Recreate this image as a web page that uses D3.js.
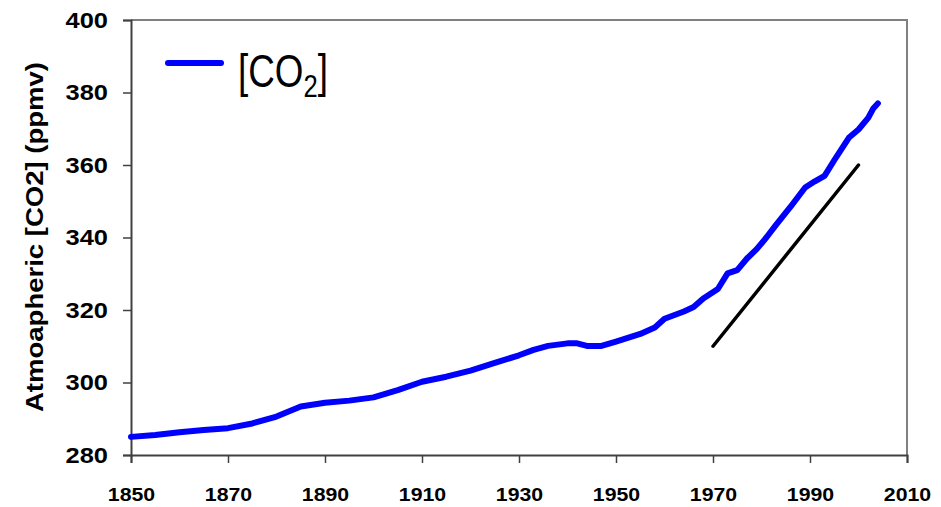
<!DOCTYPE html>
<html><head><meta charset="utf-8">
<script src="https://cdn.jsdelivr.net/npm/d3@7"></script>
<style>body{margin:0;background:#fff}svg{display:block}</style>
</head><body>
<svg id="c" width="941" height="507"></svg>
<script>
const years = [1850,1855,1860,1865,1870,1875,1880,1885,1890,1895,1900,1905,1910,1915,1920,1925,1930,1933,1936,1940,1942,1944,1947,1950,1955,1958,1960,1964,1966,1968,1971,1973,1975,1977,1979,1981,1983,1986,1989,1991,1993,1995,1998,2000,2002,2003,2004];
const co2 = [285.0,285.5,286.3,286.9,287.4,288.7,290.6,293.4,294.4,295.0,295.9,297.9,300.2,301.6,303.3,305.4,307.5,309.0,310.1,310.8,310.8,310.1,310.1,311.3,313.4,315.2,317.6,319.6,320.8,323.2,325.8,330.1,331.0,334.2,336.8,340.0,343.5,348.5,353.8,355.5,357.0,361.3,367.5,369.8,373.0,375.5,377.0];
const trendYears = [1970, 2000];
const trendValues = [310, 360];
const xTicks = [1850,1870,1890,1910,1930,1950,1970,1990,2010];
const yTicks = [280,300,320,340,360,380,400];
const yTitle = "Atmoapheric [CO2] (ppmv)";

const svg = d3.select("#c");
const L = 131, R = 907, T = 20, B = 455;
const x = d3.scaleLinear().domain([1850, 2010]).range([L, R]);
const y = d3.scaleLinear().domain([280, 400]).range([B, T]);

svg.append("path").attr("d", `M${L},${T}H${R}V${B}`).attr("fill","none").attr("stroke","#808080").attr("stroke-width",2);

function fitLen(sel, k){
  sel.each(function(){ const w = this.getComputedTextLength(); d3.select(this).attr("textLength", w*k).attr("lengthAdjust","spacingAndGlyphs"); });
}

const yAxis = svg.append("g").attr("transform",`translate(${L},0)`)
  .call(d3.axisLeft(y).tickValues(yTicks).tickSize(8).tickPadding(15).tickFormat(d3.format("d")));
yAxis.select(".domain").attr("stroke","#404040").attr("stroke-width",2);
yAxis.selectAll(".tick line").attr("stroke","#404040").attr("stroke-width",1.5);
yAxis.selectAll("text").attr("font-family","Liberation Sans, Arial, sans-serif").attr("font-weight","bold").attr("font-size",22.5).attr("fill","#000").call(fitLen,1.13);

const xAxis = svg.append("g").attr("transform",`translate(0,${B})`)
  .call(d3.axisBottom(x).tickValues(xTicks).tickSize(8).tickPadding(25).tickFormat(d3.format("d")));
xAxis.select(".domain").attr("stroke","#404040").attr("stroke-width",2);
xAxis.selectAll(".tick line").attr("stroke","#404040").attr("stroke-width",1.5);
xAxis.selectAll("text").attr("font-family","Liberation Sans, Arial, sans-serif").attr("font-weight","bold").attr("font-size",19).attr("fill","#000").call(fitLen,1.12);

svg.append("text").attr("transform","translate(43,237) rotate(-90)").attr("text-anchor","middle")
  .attr("font-family","Liberation Sans, Arial, sans-serif").attr("font-weight","bold").attr("font-size",24).attr("fill","#000")
  .attr("textLength",350).attr("lengthAdjust","spacingAndGlyphs")
  .text(yTitle);

const data = years.map((d,i)=>[d, co2[i]]);
svg.append("path").datum(data)
  .attr("d", d3.line().x(d=>x(d[0])).y(d=>y(d[1])))
  .attr("fill","none").attr("stroke","#0000ff").attr("stroke-width",6).attr("stroke-linecap","round").attr("stroke-linejoin","round");

svg.append("line").attr("x1",x(trendYears[0])).attr("y1",y(trendValues[0])).attr("x2",x(trendYears[1])).attr("y2",y(trendValues[1]))
  .attr("stroke","#000").attr("stroke-width",3.5).attr("stroke-linecap","round");

// legend
svg.append("line").attr("x1",168).attr("x2",221).attr("y1",63).attr("y2",63).attr("stroke","#0000ff").attr("stroke-width",6).attr("stroke-linecap","round");
const lt = svg.append("text").attr("transform","translate(238,87) scale(0.8,1)").attr("font-family","Liberation Sans, Arial, sans-serif").attr("font-size",46).attr("fill","#000");
lt.append("tspan").text("[CO");
lt.append("tspan").attr("font-size",32).attr("dy",10).text("2");
lt.append("tspan").attr("dy",-10).text("]");
</script>
</body></html>
